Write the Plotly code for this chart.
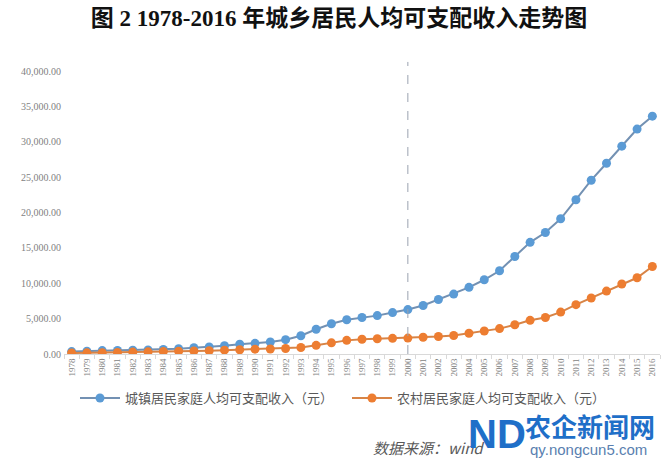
import plotly.graph_objects as go

years = [str(y) for y in range(1978, 2017)]
urban = [343.4, 405.0, 477.6, 500.4, 535.3, 564.6, 652.1, 739.1, 900.9, 1002.1,
         1180.2, 1373.9, 1510.2, 1700.6, 2026.6, 2577.4, 3496.2, 4283.0, 4838.9, 5160.3,
         5425.1, 5854.0, 6280.0, 6859.6, 7702.8, 8472.2, 9421.6, 10493.0, 11759.5, 13785.8,
         15780.8, 17174.7, 19109.4, 21809.8, 24564.7, 26955.1, 29381.0, 31790.3, 33616.0]
rural = [133.6, 160.2, 191.3, 223.4, 270.1, 309.8, 355.3, 397.6, 423.8, 462.6,
         544.9, 601.5, 686.3, 708.6, 784.0, 921.6, 1221.0, 1577.7, 1926.1, 2090.1,
         2162.0, 2210.3, 2253.4, 2366.4, 2475.6, 2622.2, 2936.4, 3254.9, 3587.0, 4140.4,
         4760.6, 5153.2, 5919.0, 6977.3, 7916.6, 8895.9, 9892.0, 10772.0, 12363.0]
urban_name = "城镇居民家庭人均可支配收入（元）"
rural_name = "农村居民家庭人均可支配收入（元）"
y_ticks = [0, 5000, 10000, 15000, 20000, 25000, 30000, 35000, 40000]
marker_year = "2000"

L, R, T, B = 64, 5, 71, 108
PW = 665 - L - R
PH = 462 - T - B


def px_x(p):
    return (p - L) / PW


def px_y(p):
    return (462 - B - p) / PH


fig = go.Figure()
fig.add_trace(go.Scatter(
    x=years, y=urban, name=urban_name, mode="lines+markers",
    line=dict(color="#7391b3", width=2),
    marker=dict(color="#5b9bd5", size=9),
    legend="legend",
))
fig.add_trace(go.Scatter(
    x=years, y=rural, name=rural_name, mode="lines+markers",
    line=dict(color="#d88446", width=2),
    marker=dict(color="#ed7d31", size=9),
    legend="legend2",
))

fig.add_shape(type="line", xref="x", yref="paper",
              x0=years.index(marker_year), x1=years.index(marker_year),
              y0=0, y1=1.032,
              line=dict(color="#9aa3b0", width=1, dash="dash"))

legend_font = dict(size=13, color="#595959", family="Noto Sans CJK SC, sans-serif")

fig.update_layout(
    width=665, height=462,
    margin=dict(l=L, r=R, t=T, b=B, autoexpand=False),
    paper_bgcolor="white", plot_bgcolor="white",
    font=dict(family="Liberation Sans, Noto Sans CJK SC, sans-serif", color="#7f7f7f"),
    showlegend=True,
    legend=dict(orientation="h", x=px_x(75), y=px_y(398), xanchor="left", yanchor="middle",
                font=legend_font, itemwidth=40, bgcolor="rgba(0,0,0,0)"),
    legend2=dict(orientation="h", x=px_x(347), y=px_y(398), xanchor="left", yanchor="middle",
                 font=legend_font, itemwidth=40, bgcolor="rgba(0,0,0,0)"),
    xaxis=dict(type="category", range=[-0.5, len(years) - 0.5],
               tickangle=-90, tickfont=dict(size=9, color="#7f7f7f",
                                            family="Liberation Serif, serif"),
               showline=True, linecolor="#d9d9d9", linewidth=1,
               ticks="outside", ticklen=4, tickcolor="#d9d9d9",
               tickson="boundaries", showgrid=False, zeroline=False),
    yaxis=dict(range=[0, 40000], tickvals=y_ticks, tickformat=",.2f",
               tickfont=dict(size=10, color="#7f7f7f", family="Liberation Serif, serif"),
               showline=False, showgrid=False, zeroline=False, ticks="",
               ticklabelstandoff=2),
    title=dict(text="<b>图 2 1978-2016 年城乡居民人均可支配收入走势图</b>",
               x=339 / 665, xanchor="center", y=1 - 18 / 462, yanchor="middle",
               font=dict(size=23, color="#111111",
                         family="Liberation Serif, Noto Sans CJK SC, serif")),
)

fig.add_annotation(text="数据来源：wind", xref="paper", yref="paper",
                   x=px_x(371), y=px_y(447),
                   xanchor="left", yanchor="middle", showarrow=False,
                   font=dict(size=15, color="#595959", style="italic",
                             family="Noto Sans CJK SC, sans-serif"))
fig.add_annotation(text="<b>ND</b>", xref="paper", yref="paper",
                   x=px_x(497), y=px_y(434),
                   xanchor="center", yanchor="middle", showarrow=False,
                   font=dict(size=40, color="#1f6fc8", family="Liberation Sans, sans-serif"))
fig.add_annotation(text="<b>农企新闻网</b>", xref="paper", yref="paper",
                   x=px_x(590), y=px_y(425),
                   xanchor="center", yanchor="middle", showarrow=False,
                   font=dict(size=26, color="#1f6fc8", family="Noto Sans CJK SC, sans-serif"))
fig.add_annotation(text="qy.nongcun5.com", xref="paper", yref="paper",
                   x=px_x(588), y=px_y(449),
                   xanchor="center", yanchor="middle", showarrow=False,
                   font=dict(size=15, color="#5a7fb0", family="Liberation Sans, sans-serif"))

fig.write_html("out.html", config={"displayModeBar": False},
               post_script="document.body.style.margin='0';document.body.style.overflow='hidden';")
